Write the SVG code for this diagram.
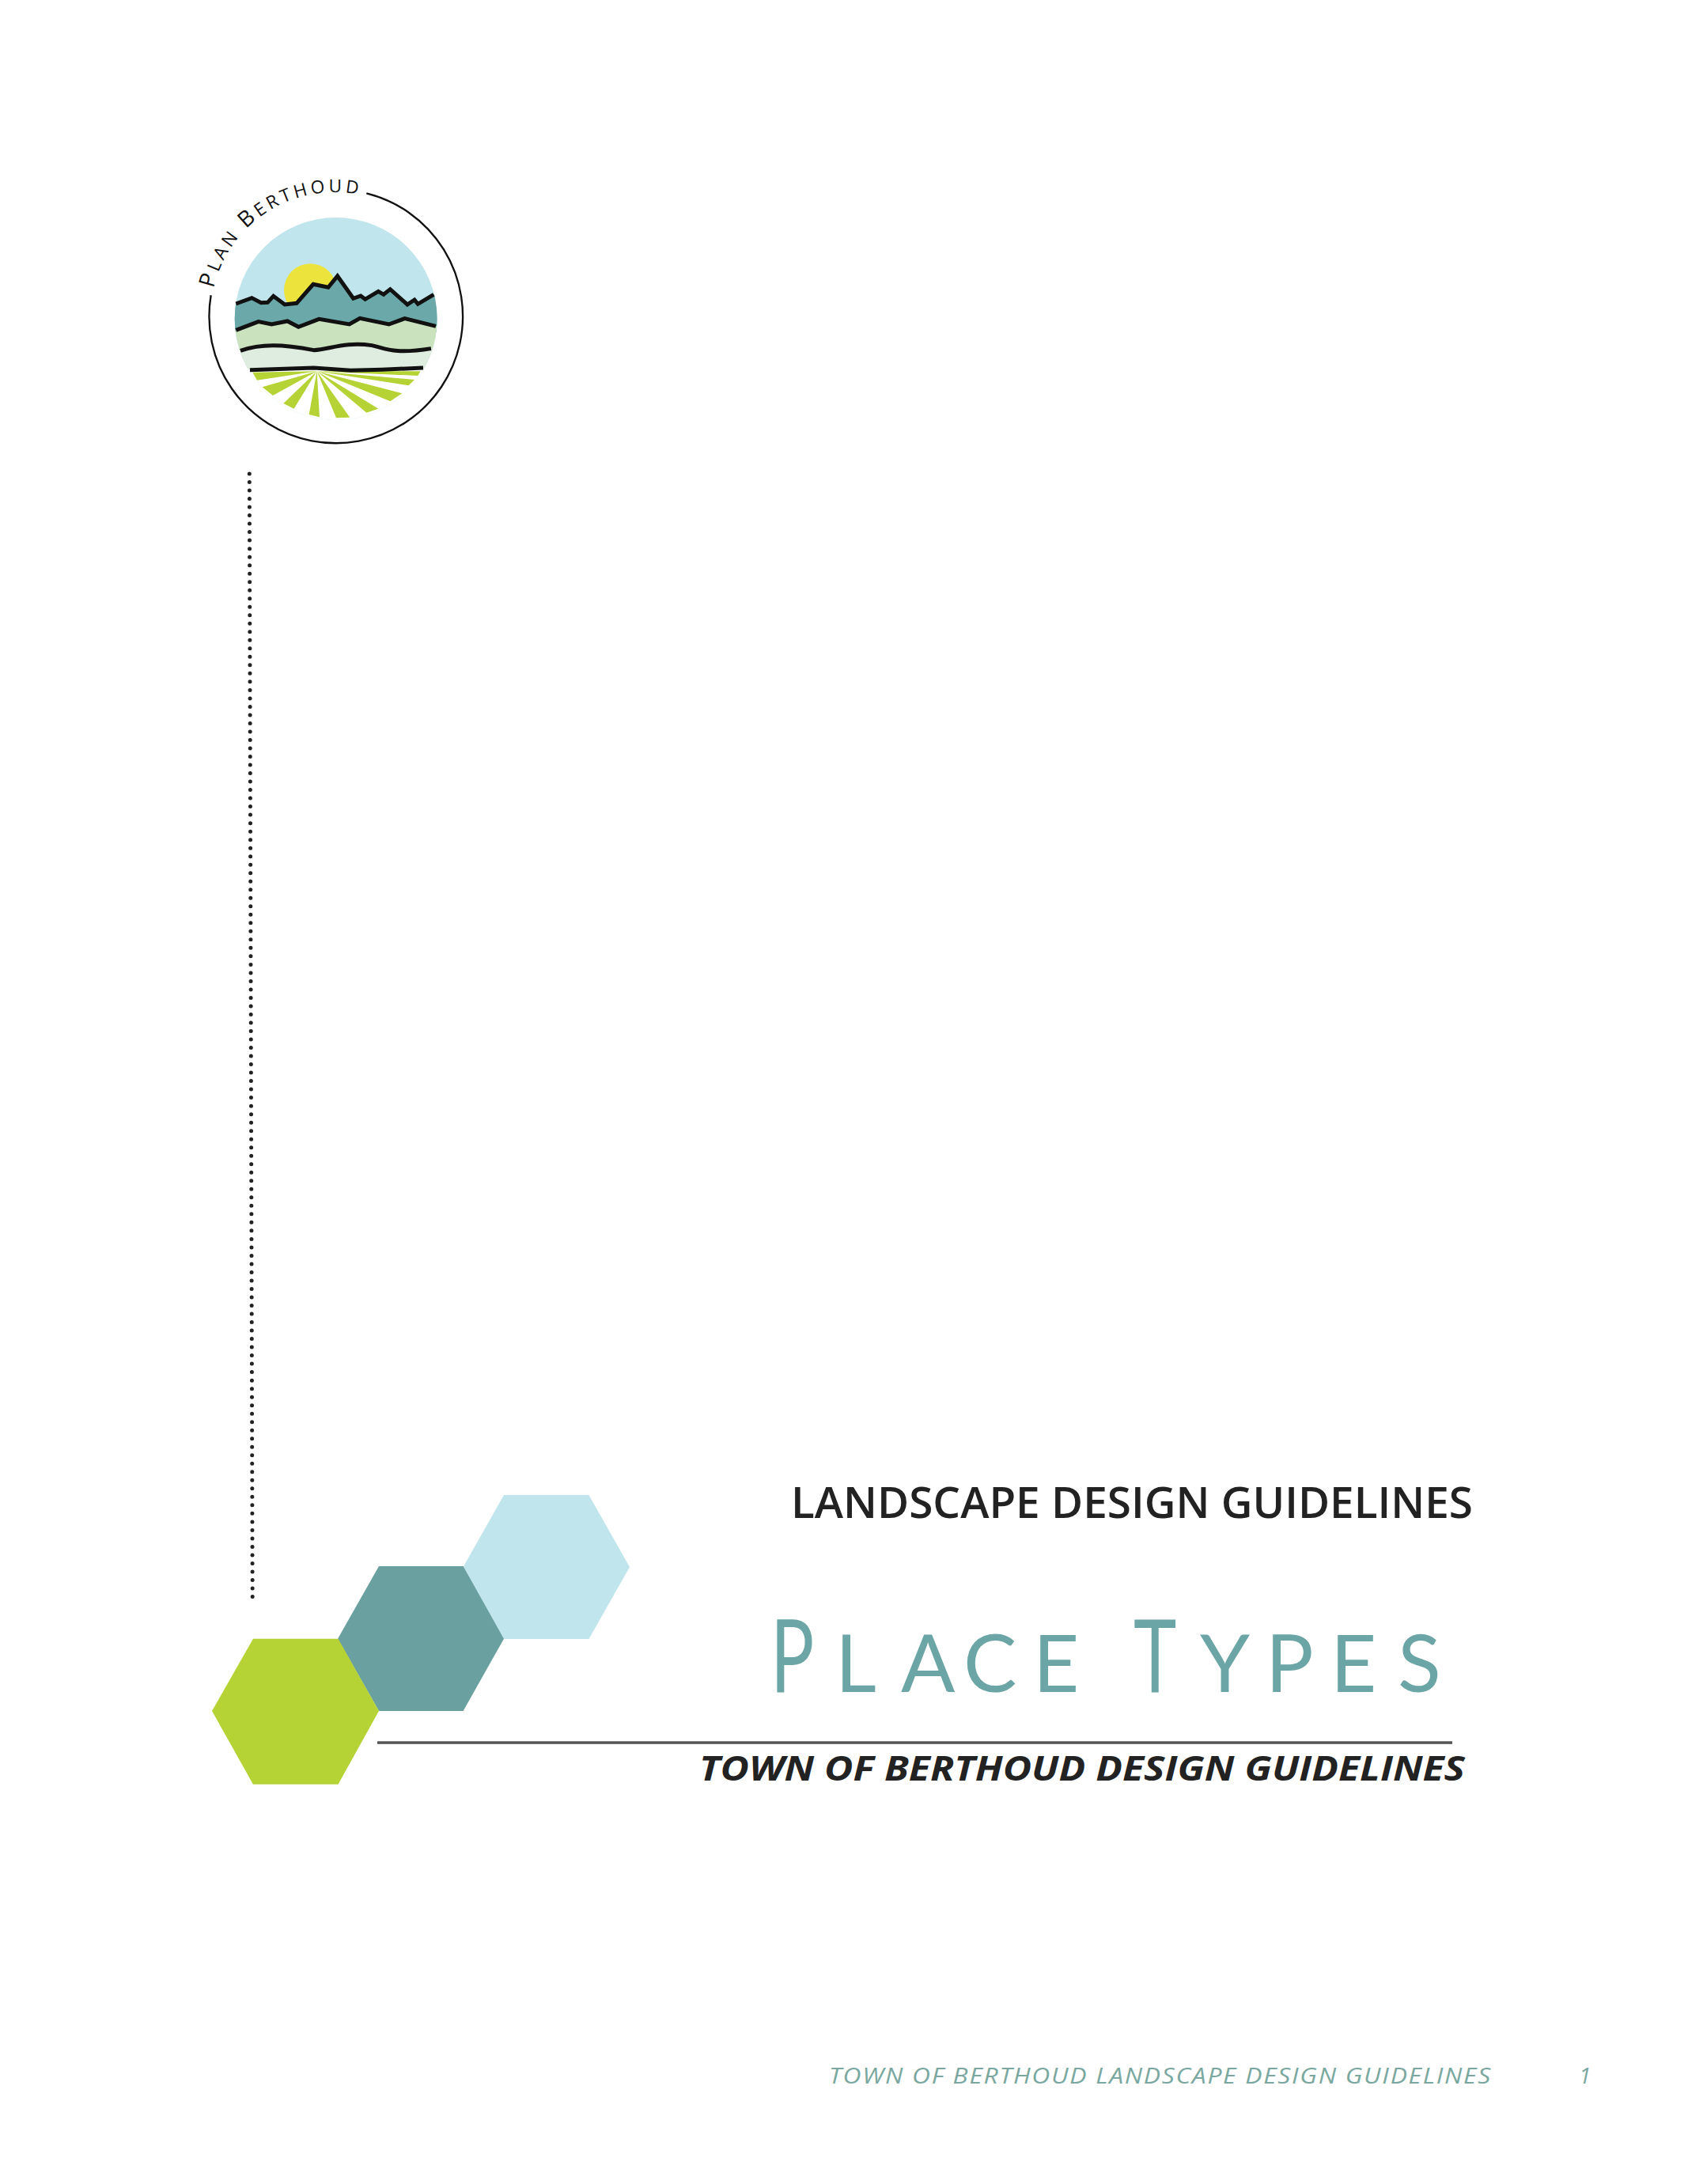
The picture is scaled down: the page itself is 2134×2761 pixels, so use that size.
<svg xmlns="http://www.w3.org/2000/svg" width="2134" height="2761" viewBox="0 0 2134 2761">
<style>
text{font-family:"Open Sans","Noto Sans","DejaVu Sans",sans-serif}
.ln{fill:none;stroke:#111;stroke-width:15;stroke-linejoin:miter;stroke-linecap:butt}
.ray{fill:#b5d334}
.hd{fill:#222;font-weight:600;font-size:54px}
.sub{fill:#222;font-weight:700;font-style:italic;font-size:43px}
.foot{fill:#7aa8a0;font-style:italic;font-size:28px;font-weight:400;letter-spacing:1.5px}
.pt{fill:#6ba5a6;font-family:"Lato","Open Sans",sans-serif;font-weight:400}
.big{font-size:128px}
.small{font-size:101px}
</style>
<defs><clipPath id="disc"><circle cx="584" cy="609" r="384"/></clipPath>
<path id="arc" d="M120,494 A470,470 0 0 1 675,139"/></defs>
<rect width="2134" height="2761" fill="#fff"/>
<g id="logo" transform="translate(230,200) scale(.3333)">
<path d="M700,133 A481,481 0 1 1 110,520" fill="none" stroke="#111" stroke-width="7"/>
<text fill="#111" font-size="68" font-weight="500"><textPath href="#arc" textLength="722"><tspan font-size="84">P</tspan>LAN <tspan font-size="84">B</tspan>ERTHOUD</textPath></text>
<g clip-path="url(#disc)">
<rect x="190" y="215" width="790" height="790" fill="#c1e5ec"/>
<circle cx="487" cy="500" r="100" fill="#ece43d"/>
<path d="M190,558L205,552L265,530L300,548L325,547L347,523L390,555L435,550L498,478L555,490L590,447L650,532L678,522L695,535L745,505L765,517L790,497L855,555L882,537L895,553L950,517L980,510V660H190Z" fill="#6ba8aa"/>
<path d="M190,655L205,652L290,620L340,630L400,618L442,640L520,610L635,630L675,607L785,630L845,608L960,637L980,640V800H190Z" fill="#cbe2bf"/>
<path d="M190,735L222,730C300,703 380,705 500,728C560,725 620,695 720,710C770,720 800,745 945,722L980,720V800H190Z" fill="#dfece0"/>
<rect x="190" y="800" width="790" height="210" fill="#fff"/>
<polygon class="ray" points="512,808 268,812 285,842"/>
<polygon class="ray" points="512,808 305,868 345,900"/>
<polygon class="ray" points="512,808 385,930 425,950"/>
<polygon class="ray" points="512,808 482,972 522,982"/>
<polygon class="ray" points="512,808 585,985 637,983"/>
<polygon class="ray" points="512,808 700,965 745,950"/>
<polygon class="ray" points="512,808 790,922 835,892"/>
<polygon class="ray" points="512,808 860,862 882,840"/>
<polygon class="ray" points="512,808 895,825 905,808"/>
</g>
<path class="ln" d="M205,552L265,530L300,548L325,547L347,523L390,555L435,550L498,478L555,490L590,447L650,532L678,522L695,535L745,505L765,517L790,497L855,555L882,537L895,553L955,517"/>
<path class="ln" d="M205,652L290,620L340,630L400,618L442,640L520,610L635,630L675,607L785,630L845,608L963,637"/>
<path class="ln" d="M222,730C300,703 380,705 500,728C560,725 620,695 720,710C770,720 800,745 945,722"/>
<path class="ln" d="M258,803L500,795L640,805L760,802L915,795"/>
</g>
<g id="dotted-line"><line x1="315.3" y1="599" x2="319.2" y2="2019.5" stroke="#222" stroke-width="5" stroke-linecap="round" stroke-dasharray="0 10.515"/></g>
<g id="hex-light"><polygon points="637,1890 744.5,1890 796,1981 744.5,2072 637,2072 585.6,1981" fill="#c0e5ec"/></g>
<g id="hex-teal"><polygon points="479,1980 585.6,1980 637,2071.7 585.6,2163 479,2163 427,2071.7" fill="#6aa0a0"/></g>
<g id="hex-green"><polygon points="320,2071.7 427.5,2071.7 479,2163 427.5,2255.7 320,2255.7 268,2163" fill="#b6d335"/></g>
<g id="rule"><rect x="477" y="2201.3" width="1359" height="3.5" fill="#555"/></g>
<g id="title">
<text class="hd" x="1000" y="1919" textLength="862" lengthAdjust="spacingAndGlyphs">LANDSCAPE DESIGN GUIDELINES</text>
<text class="pt big" transform="translate(974,2139) scale(.72,1)">P</text>
<text class="pt small" y="2139" x="1056 1139 1218 1306">LACE</text>
<text class="pt big" transform="translate(1433,2139) scale(.72,1)">T</text>
<text class="pt small" y="2139" x="1517 1600 1682 1767">YPES</text>
<text class="sub" x="884" y="2251" textLength="968" lengthAdjust="spacingAndGlyphs">TOWN OF BERTHOUD DESIGN GUIDELINES</text>
</g>
<g id="footer">
<text class="foot" x="1048" y="2634" textLength="838" lengthAdjust="spacingAndGlyphs">TOWN OF BERTHOUD LANDSCAPE DESIGN GUIDELINES</text>
<text class="foot" x="1996" y="2634" font-style="normal">1</text>
</g>
</svg>
